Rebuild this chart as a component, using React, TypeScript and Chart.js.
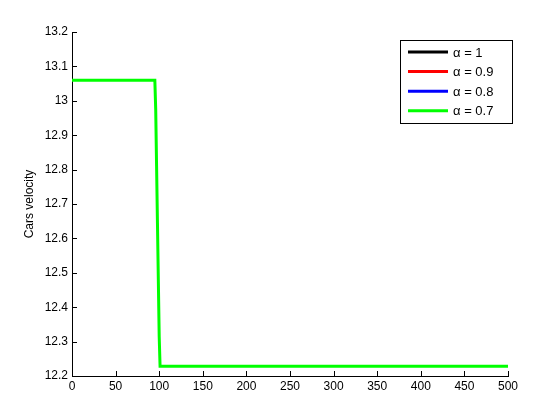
import React, { useEffect, useRef } from "react";
import { Chart, registerables } from "chart.js";
Chart.register(...registerables);

const seriesLabels = ["α = 1", "α = 0.9", "α = 0.8", "α = 0.7"];
const seriesColors = ["#000000", "#ff0000", "#0000ff", "#00ff00"];
const xValues = [0, 95, 96, 97, 98, 99, 100, 101, 500];
const velAlpha1 = [13.06, 13.06, 12.975, 12.81, 12.645, 12.48, 12.315, 12.228, 12.228];
const velAlpha09 = [13.06, 13.06, 12.975, 12.81, 12.645, 12.48, 12.315, 12.228, 12.228];
const velAlpha08 = [13.06, 13.06, 12.975, 12.81, 12.645, 12.48, 12.315, 12.228, 12.228];
const velAlpha07 = [13.06, 13.06, 12.975, 12.81, 12.645, 12.48, 12.315, 12.228, 12.228];
const xTicks = [0, 50, 100, 150, 200, 250, 300, 350, 400, 450, 500];
const yTicks = [12.2, 12.3, 12.4, 12.5, 12.6, 12.7, 12.8, 12.9, 13, 13.1, 13.2];

const FONT = "'Liberation Sans', Arial, sans-serif";

const inwardTicks = {
  id: "inwardTicks",
  afterDraw(chart: any) {
    const ctx = chart.ctx;
    const { left, bottom } = chart.chartArea;
    const xs = chart.scales.x;
    const ys = chart.scales.y;
    ctx.save();
    ctx.strokeStyle = "#000";
    ctx.lineWidth = 1;
    ctx.beginPath();
    xTicks.forEach((v) => {
      const px = Math.round(xs.getPixelForValue(v)) + 0.5;
      ctx.moveTo(px, bottom);
      ctx.lineTo(px, bottom - 5);
    });
    yTicks.forEach((v) => {
      const py = Math.round(ys.getPixelForValue(v)) + 0.5;
      ctx.moveTo(left, py);
      ctx.lineTo(left + 5, py);
    });
    ctx.stroke();
    ctx.restore();
  },
};

const boxLegend = {
  id: "boxLegend",
  afterDraw(chart: any) {
    const ctx = chart.ctx;
    const bx = 400.5, by = 40.5, bw = 112, bh = 83;
    ctx.save();
    ctx.fillStyle = "#fff";
    ctx.fillRect(bx, by, bw, bh);
    ctx.strokeStyle = "#000";
    ctx.lineWidth = 1;
    ctx.strokeRect(bx, by, bw, bh);
    ctx.font = `13px ${FONT}`;
    ctx.textBaseline = "middle";
    ctx.textAlign = "left";
    chart.data.datasets.forEach((ds: any, i: number) => {
      const y = 52 + i * 19.6;
      ctx.strokeStyle = ds.borderColor;
      ctx.lineWidth = 3;
      ctx.beginPath();
      ctx.moveTo(408, y);
      ctx.lineTo(448, y);
      ctx.stroke();
      ctx.fillStyle = "#000";
      ctx.fillText(ds.label, 453, y + 1);
    });
    ctx.restore();
  },
};

export default function App() {
  const ref = useRef<HTMLCanvasElement>(null);
  useEffect(() => {
    const series = [velAlpha1, velAlpha09, velAlpha08, velAlpha07];
    const chart = new Chart(ref.current!, {
      type: "line",
      data: {
        datasets: series.map((vals, i) => ({
          label: seriesLabels[i],
          data: xValues.map((x, j) => ({ x, y: vals[j] })),
          borderColor: seriesColors[i],
          backgroundColor: seriesColors[i],
          borderWidth: i === 3 ? 3 : 1,
          pointRadius: 0,
          tension: 0,
          order: 3 - i,
        })),
      },
      options: {
        responsive: false,
        animation: false,
        layout: { padding: { left: 0, top: 32, right: 52, bottom: 0 } },
        plugins: { legend: { display: false }, tooltip: { enabled: false } },
        scales: {
          x: {
            type: "linear",
            min: 0,
            max: 500,
            afterBuildTicks: (s: any) => {
              s.ticks = xTicks.map((v) => ({ value: v }));
            },
            afterFit: (s: any) => {
              s.height = 44;
            },
            grid: { display: true, drawOnChartArea: false, drawTicks: false },
            border: { display: true, color: "#000", width: 1 },
            ticks: {
              color: "#000",
              font: { family: FONT, size: 12 },
              padding: 3,
              maxRotation: 0,
              autoSkip: false,
            },
          },
          y: {
            type: "linear",
            min: 12.2,
            max: 13.2,
            afterBuildTicks: (s: any) => {
              s.ticks = yTicks.map((v) => ({ value: v }));
            },
            afterFit: (s: any) => {
              s.width = 72;
            },
            grid: { display: true, drawOnChartArea: false, drawTicks: false },
            border: { display: true, color: "#000", width: 1 },
            title: {
              display: true,
              text: "Cars velocity",
              color: "#000",
              font: { family: FONT, size: 12 },
              padding: { top: 22, bottom: 0 },
            },
            ticks: {
              color: "#000",
              font: { family: FONT, size: 12 },
              padding: 4,
              autoSkip: false,
              callback: (v: any) => String(Math.round(Number(v) * 10) / 10),
            },
          },
        },
      },
      plugins: [inwardTicks, boxLegend],
    });
    return () => chart.destroy();
  }, []);
  return (
    <div style={{ position: "fixed", left: 0, top: 0, width: 560, height: 420, background: "#fff" }}>
      <canvas ref={ref} width={560} height={420} style={{ display: "block" }} />
    </div>
  );
}
